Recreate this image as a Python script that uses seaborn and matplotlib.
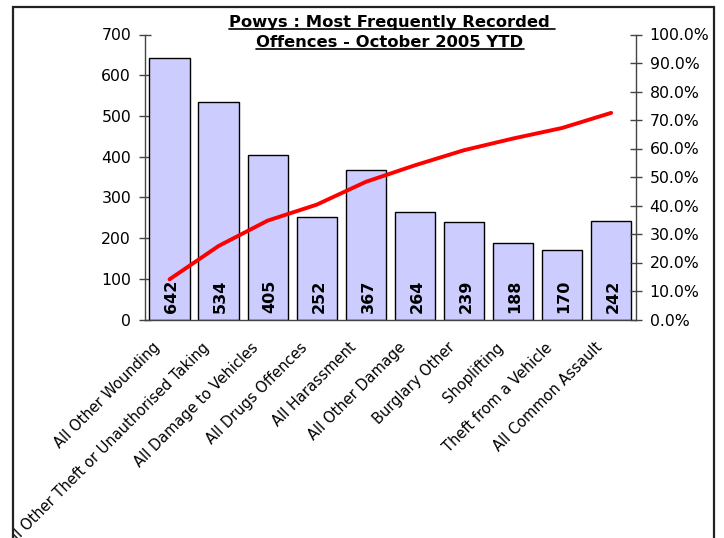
import numpy as np
import pandas as pd
import matplotlib
matplotlib.use("Agg")
import matplotlib.pyplot as plt
import matplotlib.transforms as mtransforms
import seaborn as sns
from matplotlib.patches import Rectangle
from matplotlib.lines import Line2D
from matplotlib.ticker import PercentFormatter

categories = ["All Other Wounding", "All Other Theft or Unauthorised Taking",
              "All Damage to Vehicles", "All Drugs Offences", "All Harassment",
              "All Other Damage", "Burglary Other", "Shoplifting",
              "Theft from a Vehicle", "All Common Assault"]
counts = [642, 534, 405, 252, 367, 264, 239, 188, 170, 242]
cumulative_pct = [14.1, 25.8, 34.7, 40.3, 48.3, 54.1, 59.4, 63.5, 67.2, 72.5]
title_lines = ["Powys : Most Frequently Recorded ", "Offences - October 2005 YTD"]

sns.set_style("white")
plt.rcParams["font.family"] = ["DejaVu Sans"]
plt.rcParams["text.color"] = "black"
plt.rcParams["xtick.color"] = "black"
plt.rcParams["ytick.color"] = "black"
plt.rcParams["axes.labelcolor"] = "black"

W, H = 724, 538
fig = plt.figure(figsize=(W / 100, H / 100), dpi=100)
ax = fig.add_axes([145 / W, 1 - 319.5 / H, 490.7 / W, 285 / H])

df = pd.DataFrame({"category": categories, "count": counts, "cum": cumulative_pct})

sns.barplot(data=df, x="category", y="count", ax=ax, color="#CCCCFF",
            saturation=1, edgecolor="black", linewidth=1, width=0.82)
ax.set_xlim(-0.5, len(categories) - 0.5)
ax.set_ylim(0, 700)
ax.set_yticks(np.arange(0, 701, 100))
ax.set_xlabel("")
ax.set_ylabel("")

for i, v in enumerate(counts):
    ax.annotate(str(v), xy=(i, 0), xytext=(1.5, 5), textcoords="offset points",
                rotation=90, ha="center", va="bottom", fontsize=11.5,
                fontweight="bold", color="black")

ax2 = ax.twinx()
sns.lineplot(x=np.arange(len(categories)), y=df["cum"], ax=ax2, color="#FF0000",
             linewidth=2.8, sort=False)
ax2.set_ylim(0, 100)
ax2.set_yticks(np.arange(0, 101, 10))
ax2.yaxis.set_major_formatter(PercentFormatter(100, decimals=1))
ax2.set_ylabel("")
ax2.set_xlim(-0.5, len(categories) - 0.5)

spine_col = "#444444"
for a in (ax, ax2):
    a.spines["top"].set_visible(False)
    for s in ("left", "right", "bottom"):
        a.spines[s].set_color(spine_col)
        a.spines[s].set_linewidth(1)
ax.spines["right"].set_visible(False)
ax2.spines["left"].set_visible(False)
ax2.spines["bottom"].set_visible(False)

ax.tick_params(axis="y", direction="inout", length=8, width=1, color=spine_col,
               labelsize=11.3, pad=6)
ax2.tick_params(axis="y", direction="inout", length=8, width=1, color=spine_col,
                labelsize=11.3, pad=6)
ax.set_xticks(np.arange(len(categories)))
ax.set_xticklabels(categories, rotation=45, ha="right", va="top",
                   rotation_mode="anchor", fontsize=10.5)
ax.tick_params(axis="x", which="major", length=0, pad=6)
ax.set_xticks(np.arange(-0.5, len(categories), 1), minor=True)
ax.tick_params(axis="x", which="minor", direction="inout", length=8, width=1,
               color=spine_col)

# chart-area border
border = Rectangle((13 / W, -0.1), 701 / W, 1.1 - 7 / H, transform=fig.transFigure,
                   fill=False, edgecolor="#222222", linewidth=1.6, clip_on=False)
fig.add_artist(border)
clip_rect = Rectangle((13 / W, -0.1), 701 / W, 1.1 - 7 / H, transform=fig.transFigure,
                      fill=False, linewidth=0)
shift = mtransforms.ScaledTranslation(-17 / 100, -12 / 100, fig.dpi_scale_trans)
for lbl in ax.get_xticklabels():
    lbl.set_transform(lbl.get_transform() + shift)
    lbl.set_clip_on(True)
    lbl.set_clip_path(clip_rect)

# title with underline
t1 = fig.text(392 / W, 1 - 26.7 / H, title_lines[0], ha="center", va="baseline",
              fontsize=11.8, fontweight="bold")
t2 = fig.text(390 / W, 1 - 46.7 / H, title_lines[1], ha="center", va="baseline",
              fontsize=11.8, fontweight="bold")
fig.canvas.draw()
r = fig.canvas.get_renderer()
for t, yb in ((t1, 28.8), (t2, 49.0)):
    bb = t.get_window_extent(r)
    fig.add_artist(Line2D([bb.x0 / W, bb.x1 / W], [1 - yb / H, 1 - yb / H],
                          transform=fig.transFigure, color="black", linewidth=1.2))

fig.savefig("out.png", dpi=100)
